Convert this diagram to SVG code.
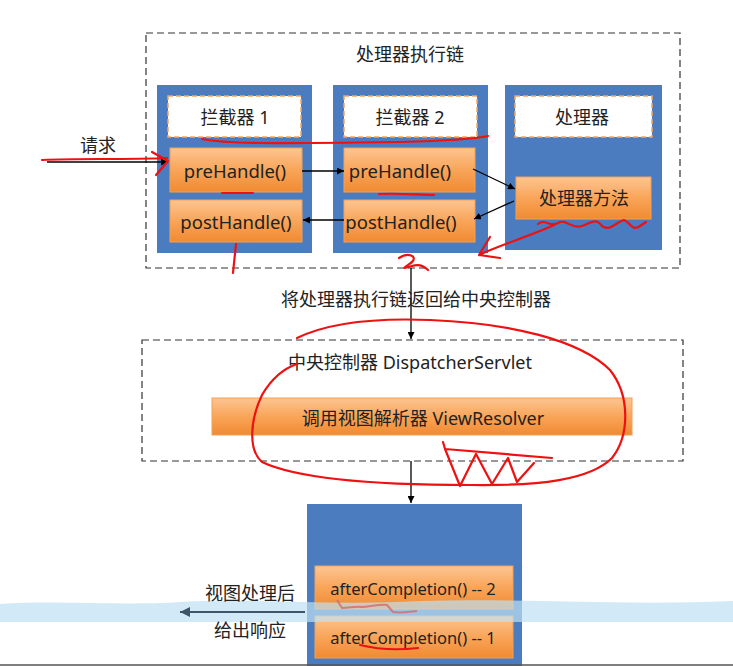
<svg xmlns="http://www.w3.org/2000/svg" width="733" height="666" viewBox="0 0 733 666">
<defs>
<linearGradient id="og" x1="0" y1="0" x2="0" y2="1">
<stop offset="0" stop-color="#fcc592"/>
<stop offset="0.5" stop-color="#f9a559"/>
<stop offset="1" stop-color="#f08a32"/>
</linearGradient>
<marker id="ah" viewBox="0 0 10 10" refX="10" refY="5" markerWidth="7" markerHeight="7" orient="auto-start-reverse" markerUnits="userSpaceOnUse">
<path d="M0,0 L10,5 L0,10 z" fill="#000"/>
</marker>
<marker id="ah2" viewBox="0 0 10 10" refX="10" refY="5" markerWidth="12" markerHeight="10" orient="auto" markerUnits="userSpaceOnUse">
<path d="M0,0 L10,5 L0,10 z" fill="#3d5566"/>
</marker>
</defs>
<style>
text{font-family:"Noto Sans","Noto Sans CJK SC",sans-serif;font-size:18px;fill:#222;text-anchor:middle;dominant-baseline:central}
.m{font-size:18.5px}
.a{font-size:16.5px}
.dash{fill:none;stroke:#333;stroke-width:1.2;stroke-dasharray:7,4}
.blue{fill:#4a7cbf}
.hdr{fill:#fff;stroke:#f5a55e;stroke-width:1.5;stroke-dasharray:5,3}
.org{fill:url(#og);stroke:#f3a055;stroke-width:1}
.con{stroke:#000;stroke-width:1.3;fill:none;marker-end:url(#ah)}
.red{fill:none;stroke:#ee1111;stroke-width:2.2;stroke-linecap:round;stroke-linejoin:round}
</style>
<rect width="733" height="666" fill="#fff"/>

<g id="chain">
<rect class="dash" x="146" y="33" width="534" height="235"/>
<text x="410" y="54">处理器执行链</text>
</g>
<g id="interceptor1">
<rect class="blue" x="157" y="85" width="155" height="168"/>
<rect class="hdr" x="168" y="96" width="133" height="41"/>
<text x="235" y="117">拦截器 1</text>
</g>
<g id="pre1"><rect class="org" x="170" y="148" width="132" height="44"/><text class="m" x="235" y="170">preHandle()</text></g>
<g id="post1"><rect class="org" x="170" y="200" width="132" height="42"/><text class="m" x="236" y="221">postHandle()</text></g>
<g id="interceptor2">
<rect class="blue" x="333" y="85" width="155" height="168"/>
<rect class="hdr" x="344" y="96" width="133" height="41"/>
<text x="410" y="117">拦截器 2</text>
</g>
<g id="pre2"><rect class="org" x="344" y="148" width="131" height="44"/><text class="m" x="400" y="170">preHandle()</text></g>
<g id="post2"><rect class="org" x="344" y="200" width="131" height="42"/><text class="m" x="401" y="221">postHandle()</text></g>
<g id="handler">
<rect class="blue" x="505" y="85" width="157" height="165"/>
<rect class="hdr" x="515" y="96" width="137" height="41"/>
<text x="582" y="117">处理器</text>
</g>
<g id="handlerMethod"><rect class="org" x="516" y="177" width="135" height="42"/><text x="584" y="198">处理器方法</text></g>

<g id="dispatcher">
<rect class="dash" x="142" y="340" width="541" height="121"/>
<text x="410" y="362">中央控制器 DispatcherServlet</text>
</g>
<g id="viewResolver"><rect class="org" x="212" y="398" width="420" height="37"/><text x="423" y="418">调用视图解析器 ViewResolver</text></g>

<g id="completion">
<rect class="blue" x="307" y="504" width="215" height="170"/>
</g>
<g id="after2"><rect class="org" x="315" y="566" width="198" height="43"/><text class="a" x="413" y="588">afterCompletion() -- 2</text></g>
<g id="after1"><rect class="org" x="315" y="616" width="198" height="42"/><text class="a" x="413" y="637">afterCompletion() -- 1</text></g>

<g id="band">
<path d="M0,604 C60,600 120,606 180,602 C260,598 330,606 420,601 C520,598 620,606 733,601 L733,622 L0,622 z" fill="#bfe1f3" fill-opacity="0.7"/>
</g>

<g id="connectors">
<path class="con" d="M47,162 L168,162"/>
<text x="98" y="145">请求</text>
<path class="con" d="M302,171 L344,171"/>
<path class="con" d="M473,169 L515,189"/>
<path class="con" d="M514,201 L474,219"/>
<path class="con" d="M344,220 L303,220"/>
<path class="con" d="M411,268 L411,339"/>
<text x="416" y="299">将处理器执行链返回给中央控制器</text>
<path class="con" d="M411,461 L411,503"/>
<path d="M305,612 L180,612" stroke="#3d5566" stroke-width="2" fill="none" marker-end="url(#ah2)"/>
<text x="250" y="593">视图处理后</text>
<text x="250" y="630">给出响应</text>
</g>

<g id="annotations">
<path class="red" d="M202,139 C230,145 300,143 400,142 C440,141 470,140 488,136"/>
<path class="red" d="M222,193 L253,193"/>
<path class="red" d="M379,194 C400,193 420,195 434,195"/>
<path class="red" d="M538,224 C545,218 550,228 558,223 C566,218 572,230 582,226 C592,222 596,218 602,226 C610,232 616,222 624,220 C630,222 632,232 640,226 L646,222"/>
<path class="red" d="M554,225 C530,236 500,245 479,255 M490,237 L479,255 L500,258"/>
<path class="red" d="M236,244 L233,273"/>
<path class="red" d="M399,258 C408,252 418,256 412,262 C404,268 400,270 412,266 C418,264 424,266 428,270"/>
<path class="red" d="M42,160 C80,158 120,160 167,158 M152,152 L168,161 L156,175"/>
<path class="red" d="M297,338 C330,322 380,318 430,320 C510,323 580,340 610,370 C630,395 630,435 612,458 C590,480 540,486 470,485 C380,485 300,480 262,462 C248,450 250,420 262,395 C272,378 285,368 297,364"/>
<path class="red" d="M443,442 L445,449 L552,458 M445,449 L460,486 L476,454 L492,484 L508,458 L517,482 L534,463"/>
<path class="red" d="M360,645 C380,650 400,650 418,648"/>
<path d="M337,600 L342,608 C350,608 355,606 362,607 C372,606 382,604 387,605 L393,612 C400,613 410,612 417,611" fill="none" stroke="#d46a6a" stroke-width="2" stroke-opacity="0.8"/>
</g>
<line x1="0" y1="665" x2="733" y2="665" stroke="#555" stroke-width="1.5"/>
</svg>
